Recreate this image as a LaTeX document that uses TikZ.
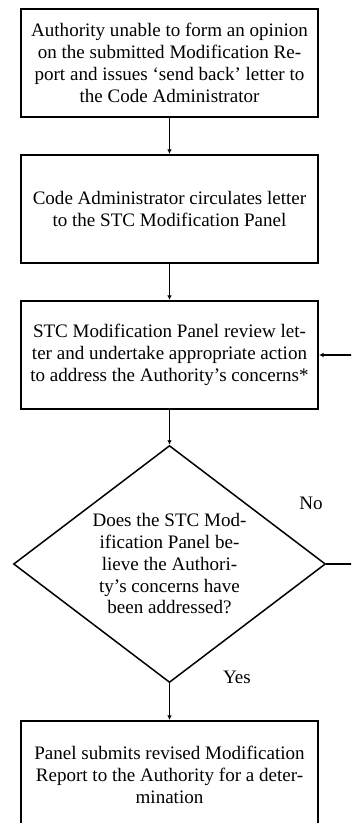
\documentclass[tikz,border=0pt]{standalone}
\usepackage{fontspec}
\setmainfont{Liberation Serif}
\usetikzlibrary{shapes.geometric,arrows.meta}

\begin{document}
\begin{tikzpicture}[
         x=0.6667pt,y=-0.6667pt,
         font=\fontsize{12.7}{14.5}\selectfont,
         process/.style={rectangle,draw,line width=1.4pt,
           minimum width=198pt,minimum height=72pt,
           align=center,inner sep=0pt},
         decision/.style={diamond,draw,line width=1pt,
           minimum width=208pt,minimum height=158pt,
           align=center,inner sep=0pt,aspect=1.32},
         flow/.style={line width=1pt,-{Latex[length=3pt,width=3pt]}}
      ]

	      \useasboundingbox (0,0) rectangle (351,823);
	      \clip (0,0) rectangle (351,823);

	      \node[process] (letter) at (169.5,63) {Authority unable to form an opinion\\on the submitted Modification Re-\\port and issues `send back' letter to\\the Code Administrator};
	      \node[process] (circulate) at (169.5,209) {Code Administrator circulates letter\\to the STC Modification Panel};
	      \node[process] (review) at (169.5,355) {STC Modification Panel review let-\\ter and undertake appropriate action\\to address the Authority's concerns*};
	      \node[decision] (check) at (169.5,564) {Does the STC Mod-\\ification Panel be-\\lieve the Authori-\\ty's concerns have\\been addressed?};
	      \node[process] (submit) at (169.5,775) {Panel submits revised Modification\\Report to the Authority for a deter-\\mination};

	      \node (no) at (311,503) {No};
	      \node (yes) at (237,677) {Yes};

	      \coordinate (loopdown) at (358,564);
	      \coordinate (loopup) at (358,355);

	      \draw[flow] (letter) -- (circulate);
	      \draw[flow] (circulate) -- (review);
	      \draw[flow] (review) -- (check);
	      \draw[flow] (check) -- (submit);
	      \draw[flow] (check.east) -- (loopdown) -- (loopup) -- (review.east);

	\end{tikzpicture}
\end{document}
